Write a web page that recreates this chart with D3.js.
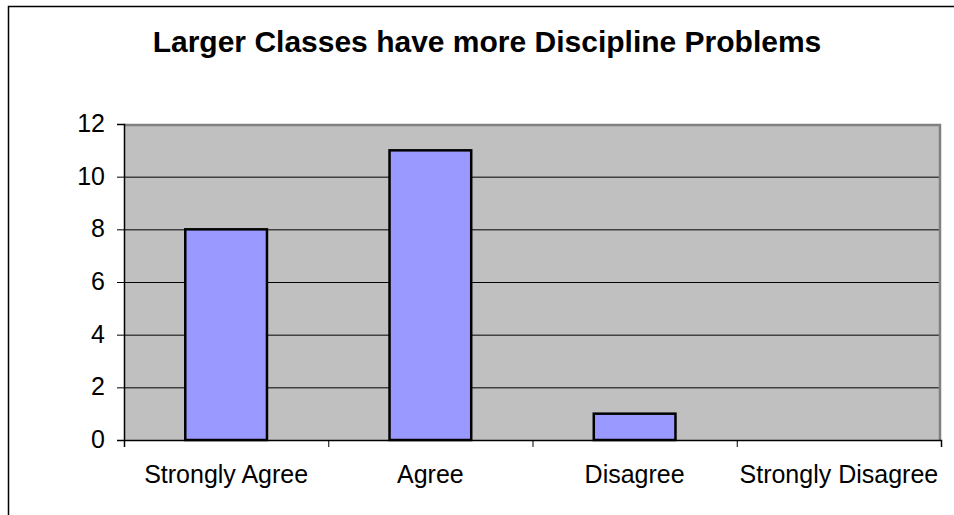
<!DOCTYPE html>
<html>
<head>
<meta charset="utf-8">
<script src="https://cdn.jsdelivr.net/npm/d3@7"></script>
<style>
  body { margin: 0; background: #fff; }
  svg { display: block; }
  text { font-family: "Liberation Sans", Arial, sans-serif; fill: #000; }
</style>
</head>
<body>
<div class="render"></div>
<script>
'use strict';

var categories = ['Strongly Agree', 'Agree', 'Disagree', 'Strongly Disagree'];
var values = [8, 11, 1, 0];
var yTicks = [0, 2, 4, 6, 8, 10, 12];
var title = 'Larger Classes have more Discipline Problems';

var w = 954;
var h = 515;
var plotL = 124, plotR = 941, plotT = 124, plotB = 440;

var svg = d3.select('.render').append('svg').attr('width', w).attr('height', h);

// outer frame (only top/left visible in the picture)
svg.append('rect').attr('x', 8.5).attr('y', 6.5).attr('width', w + 10).attr('height', h + 10)
   .attr('fill', 'none').attr('stroke', '#000').attr('stroke-width', 1.5);

var xScale = d3.scaleBand().domain(categories).range([plotL, plotR]).paddingInner(0.6).paddingOuter(0.3);
var edgeScale = d3.scaleLinear().domain([0, categories.length]).range([plotL, plotR]);
var yScale = d3.scaleLinear().domain([0, 12]).range([plotB, plotT]);

// plot background
svg.append('rect').attr('x', plotL).attr('y', plotT).attr('width', plotR - plotL).attr('height', plotB - plotT)
   .attr('fill', '#c0c0c0');

// grid lines
svg.append('g').selectAll('line').data(yTicks.slice(1, -1)).enter().append('line')
   .attr('x1', plotL).attr('x2', plotR)
   .attr('y1', function (d) { return yScale(d) + 0.5; }).attr('y2', function (d) { return yScale(d) + 0.5; })
   .attr('stroke', '#000').attr('stroke-width', 1);

// plot border top/right
svg.append('path').attr('d', 'M' + plotL + ',' + (plotT + 1) + 'H' + (plotR - 1) + 'V' + plotB)
   .attr('fill', 'none').attr('stroke', '#808080').attr('stroke-width', 2.5);

// bars
svg.append('g').selectAll('rect').data(values).enter().append('rect')
   .attr('x', function (d, i) { return xScale(categories[i]); })
   .attr('y', function (d) { return yScale(d); })
   .attr('width', xScale.bandwidth())
   .attr('height', function (d) { return plotB - yScale(d); })
   .attr('fill', '#9999ff').attr('stroke', '#000').attr('stroke-width', 2.5)
   .style('display', function (d) { return d > 0 ? null : 'none'; });

// y axis
var yAxis = d3.axisLeft(yScale).tickValues(yTicks).tickSize(7).tickPadding(12).tickFormat(d3.format('d'));
var gy = svg.append('g').attr('transform', 'translate(' + plotL + ',0)').call(yAxis);
gy.select('.domain').attr('stroke', '#000').attr('stroke-width', 1.5);
gy.selectAll('.tick line').attr('stroke', '#000');
gy.selectAll('text').style('font-size', '25px').attr('dy', '0.3em');

// x axis boundary ticks
var xAxis = d3.axisBottom(edgeScale).ticks(categories.length).tickSize(7).tickFormat('');
var gx = svg.append('g').attr('transform', 'translate(0,' + plotB + ')').call(xAxis);
gx.select('.domain').attr('stroke', '#000').attr('stroke-width', 1.5);
gx.selectAll('.tick line').attr('stroke', '#000');

// x labels
svg.append('g').selectAll('text').data(categories).enter().append('text')
   .text(function (d) { return d; })
   .attr('x', function (d) { return xScale(d) + xScale.bandwidth() / 2; })
   .attr('y', 483)
   .attr('text-anchor', 'middle')
   .style('font-size', '25px');

// title
svg.append('text').text(title).attr('x', 487).attr('y', 52).attr('text-anchor', 'middle')
   .style('font-size', '30px').style('font-weight', 'bold');
</script>
</body>
</html>
